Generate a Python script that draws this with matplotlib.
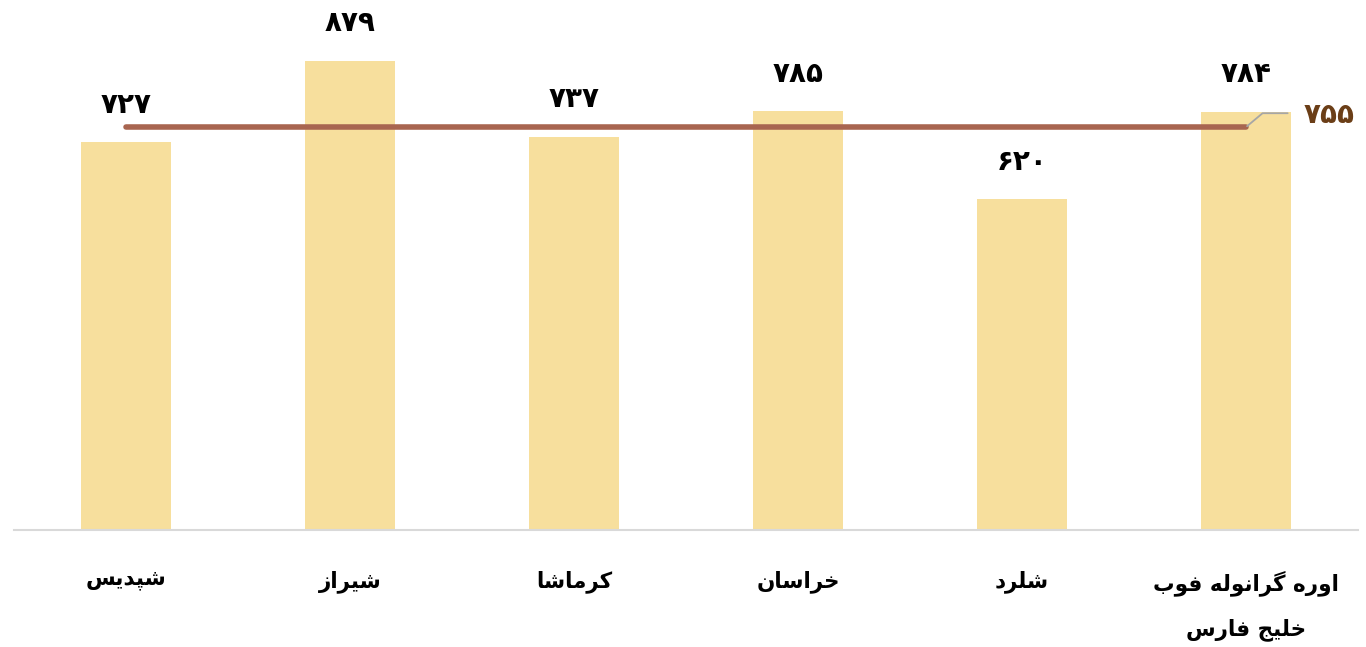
import matplotlib
matplotlib.use("Agg")
import matplotlib.pyplot as plt

categories = ["شپدیس", "شیراز", "کرماشا", "خراسان", "شلرد", "اوره گرانوله فوب\nخلیج فارس"]
values = [727, 879, 737, 785, 620, 784]
average = 755

# --- minimal Arabic/Persian shaping (presentation forms) ---
FORMS = {
    'ا': ('\uFE8D', '\uFE8E', None, None),
    'د': ('\uFEA9', '\uFEAA', None, None),
    'ر': ('\uFEAD', '\uFEAE', None, None),
    'ز': ('\uFEAF', '\uFEB0', None, None),
    'و': ('\uFEED', '\uFEEE', None, None),
    'ب': ('\uFE8F', '\uFE90', '\uFE91', '\uFE92'),
    'پ': ('\uFB56', '\uFB57', '\uFB58', '\uFB59'),
    'ج': ('\uFE9D', '\uFE9E', '\uFE9F', '\uFEA0'),
    'خ': ('\uFEA5', '\uFEA6', '\uFEA7', '\uFEA8'),
    'س': ('\uFEB1', '\uFEB2', '\uFEB3', '\uFEB4'),
    'ش': ('\uFEB5', '\uFEB6', '\uFEB7', '\uFEB8'),
    'ف': ('\uFED1', '\uFED2', '\uFED3', '\uFED4'),
    'ک': ('\uFB8E', '\uFB8F', '\uFB90', '\uFB91'),
    'گ': ('\uFB92', '\uFB93', '\uFB94', '\uFB95'),
    'ل': ('\uFEDD', '\uFEDE', '\uFEDF', '\uFEE0'),
    'م': ('\uFEE1', '\uFEE2', '\uFEE3', '\uFEE4'),
    'ن': ('\uFEE5', '\uFEE6', '\uFEE7', '\uFEE8'),
    'ه': ('\uFEE9', '\uFEEA', '\uFEEB', '\uFEEC'),
    'ی': ('\uFBFC', '\uFBFD', '\uFBFE', '\uFBFF'),
}


def dual(c):
    return c in FORMS and FORMS[c][2] is not None


def shape_line(s):
    out = []
    for i, c in enumerate(s):
        if c not in FORMS:
            out.append(c)
            continue
        prev_j = i > 0 and dual(s[i - 1])
        next_j = dual(c) and i + 1 < len(s) and s[i + 1] in FORMS
        f = FORMS[c]
        if prev_j and next_j:
            out.append(f[3])
        elif prev_j:
            out.append(f[1])
        elif next_j:
            out.append(f[2])
        else:
            out.append(f[0])
    return ''.join(reversed(out))


def shape(s):
    return '\n'.join(shape_line(l) for l in s.split('\n'))


def fa_digits(n):
    return str(n).translate(str.maketrans('0123456789', '۰۱۲۳۴۵۶۷۸۹'))


plt.rcParams['font.family'] = ['DejaVu Sans']

fig = plt.figure(figsize=(13.66, 6.47), dpi=100)
ax = fig.add_axes([14 / 1366, 117 / 647, 1344 / 1366, 528.3 / 647])

x = list(range(len(categories)))
ax.bar(x, values, width=0.4, color='#F7DF9D', zorder=2)
ax.plot([x[0], x[-1]], [average, average], color='#A86550', lw=4,
        solid_capstyle='round', zorder=3)

for xi, v in zip(x, values):
    ax.annotate(fa_digits(v), (xi, v), xytext=(0, 27), textcoords='offset points',
                ha='center', va='center', fontsize=20, fontweight='bold', color='black')

# average label with leader line
ax.annotate('', xy=(x[-1], average), xytext=(30, 10), textcoords='offset points',
            arrowprops=dict(arrowstyle='-', color='#A6A6A6', lw=1.3,
                            connectionstyle='angle,angleA=0,angleB=40,rad=0',
                            shrinkA=0, shrinkB=1), zorder=4)
ax.annotate(fa_digits(average), xy=(x[-1], average), xytext=(60, 9),
            textcoords='offset points', ha='center', va='center', fontsize=20,
            fontweight='bold', color='#6B3E17', annotation_clip=False)

ax.set_xlim(-0.5, len(categories) - 0.5)
ax.set_ylim(0, 990)
ax.set_xticks(x)
ax.set_xticklabels([shape(c) for c in categories], fontsize=15.5, fontweight='bold',
                   linespacing=2.3, va='top')
ax.tick_params(axis='x', length=0, pad=29)
ax.set_yticks([])
for s in ['top', 'left', 'right']:
    ax.spines[s].set_visible(False)
ax.spines['bottom'].set_color('#D9D9D9')
ax.spines['bottom'].set_linewidth(1.5)

fig.savefig('out.png', dpi=100)
